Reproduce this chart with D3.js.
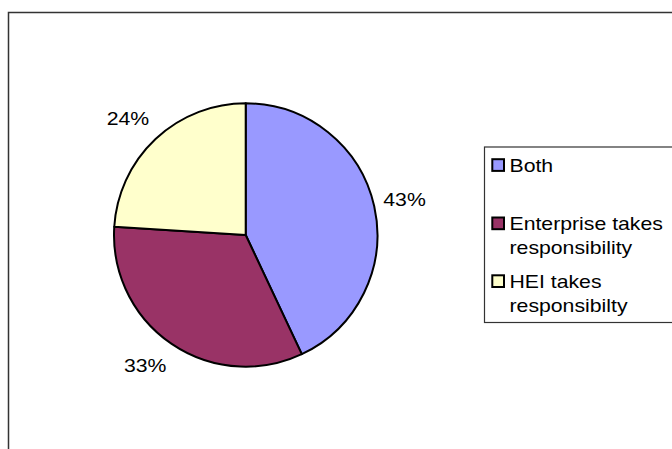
<!DOCTYPE html>
<html>
<head>
<meta charset="utf-8">
<script src="https://cdn.jsdelivr.net/npm/d3@7"></script>
<style>
  html, body { margin: 0; padding: 0; background: #fff; }
  svg { display: block; }
  text { font-family: "Liberation Sans", Arial, sans-serif; fill: #000; }
</style>
</head>
<body>
<svg id="chart" width="672" height="449"></svg>
<script>
// Who takes responsibility – share of responses
const categories = ["Both", "Enterprise takes responsibility", "HEI takes responsibilty"];
const legendLines = [["Both"], ["Enterprise takes", "responsibility"], ["HEI takes", "responsibilty"]];
const values = [43, 33, 24];
const colors = ["#9999FF", "#993366", "#FFFFCC"];

const svg = d3.select("#chart");

// chart area frame (runs off the right and bottom edges)
svg.append("rect")
  .attr("x", 8.5).attr("y", 12.5)
  .attr("width", 700).attr("height", 460)
  .attr("fill", "#fff")
  .attr("stroke", "#333").attr("stroke-width", 1.5);

const cx = 245.7, cy = 235, radius = 131.7;
const total = d3.sum(values);

const pie = d3.pie().sort(null).value(d => d).startAngle(0).endAngle(2 * Math.PI);
const arcs = pie(values);
const arc = d3.arc().innerRadius(0).outerRadius(radius);
const color = d3.scaleOrdinal().domain(categories).range(colors);

const g = svg.append("g").attr("transform", `translate(${cx},${cy})`);

g.selectAll("path.slice")
  .data(arcs)
  .join("path")
  .attr("class", "slice")
  .attr("d", arc)
  .attr("fill", (d, i) => color(categories[i]))
  .attr("stroke", "#000")
  .attr("stroke-width", 2)
  .attr("stroke-linejoin", "round");

const fontSize = 18.8, stretch = 1.13;

// percentage labels sit just outside the rim, anchored toward the slice
const labelR = 141;
g.selectAll("text.pct")
  .data(arcs)
  .join("text")
  .attr("class", "pct")
  .each(function (d) {
    const a = (d.startAngle + d.endAngle) / 2;
    const s = Math.sin(a), c = -Math.cos(a);
    const x = s * labelR;
    const y = c * labelR + 5.5 + 18 * c;
    d3.select(this)
      .attr("text-anchor", s >= 0 ? "start" : "end")
      .attr("transform", `translate(${x},${y}) scale(${stretch},1)`);
  })
  .style("font-size", fontSize + "px")
  .text(d => Math.round(d.value / total * 100) + "%");

// legend
const lg = svg.append("g");
lg.append("rect")
  .attr("x", 484.5).attr("y", 147)
  .attr("width", 260).attr("height", 175.5)
  .attr("fill", "#fff")
  .attr("stroke", "#333").attr("stroke-width", 1.2);

const itemY = [171.7, 230, 287.8];
const lineGap = 24;

const items = lg.selectAll("g.item")
  .data(categories)
  .join("g")
  .attr("class", "item");

items.append("rect")
  .attr("x", 492.3)
  .attr("y", (d, i) => itemY[i] - 12.5)
  .attr("width", 11.7).attr("height", 11.7)
  .attr("fill", d => color(d))
  .attr("stroke", "#000").attr("stroke-width", 2);

items.each(function (d, i) {
  d3.select(this).selectAll("text")
    .data(legendLines[i])
    .join("text")
    .attr("transform", (t, j) => `translate(509.5,${itemY[i] + j * lineGap}) scale(${stretch},1)`)
    .style("font-size", fontSize + "px")
    .text(t => t);
});
</script>
</body>
</html>
